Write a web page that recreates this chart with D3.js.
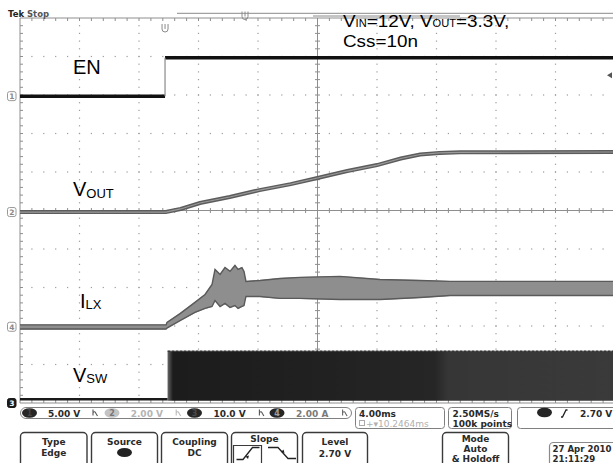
<!DOCTYPE html>
<html><head><meta charset="utf-8">
<script src="https://cdn.jsdelivr.net/npm/d3@7"></script>
<style>
html,body{margin:0;padding:0;background:#fff;}
svg{display:block;}
</style></head><body>
<svg id="c" width="613" height="463"></svg>
<script>
// ================= DATA =================
const timePerDiv = 4;                 // ms / div
const chScale  = [5, 2, 10, 2];       // ch1 EN (V/div), ch2 VOUT (V/div), ch3 VSW (V/div), ch4 ILX (A/div)
const chOffset = [2.97, -0.04, -4.9, -3.02]; // ground position, divisions from centre
const chReadouts = ['5.00 V', '2.00 V', '10.0 V', '2.00 A'];

// EN (ch1)
const enEdges  = [0, 9.75, 40];       // ms
const enLevels = [0, 5.0];            // V

// VOUT (ch2)
const voutT = [0, 9.8, 10.8, 12.1, 14.1, 16.1, 18.2, 20.0, 22.0, 24.0, 25.6, 26.9, 28.2, 29.6, 40];
const voutV = [0, 0, 0.16, 0.47, 0.78, 1.14, 1.45, 1.77, 2.13, 2.44, 2.78, 2.99, 3.07, 3.10, 3.12];

// ILX (ch4) envelope
const ilxT  = [0, 9.82, 9.88, 10.76, 11.76, 12.44, 12.91, 13.11, 13.45, 13.78, 14.12, 14.45, 14.66, 14.92, 15.06, 15.19, 16.13, 17.48, 18.82, 21.51, 24.20, 26.89, 28.91, 40];
const ilxHi = [0.07, 0.07, 0.20, 0.66, 1.24, 1.65, 2.17, 2.95, 2.69, 3.05, 2.85, 3.16, 2.95, 3.05, 2.85, 2.33, 2.38, 2.48, 2.54, 2.59, 2.43, 2.38, 2.33, 2.33];
const ilxLo = [-0.09, -0.09, -0.04, 0.35, 0.77, 0.98, 1.08, 1.39, 1.08, 1.24, 1.03, 1.13, 0.98, 1.08, 1.13, 1.60, 1.60, 1.50, 1.50, 1.44, 1.44, 1.55, 1.65, 1.65];

// VSW (ch3) switching envelope
const vswBaseT = [0, 9.92];
const vswT  = [9.92, 40];
const vswHi = [12.45, 12.45];
const vswLo = [-0.4, -0.4];

// Readout texts
const timebase = '4.00ms';
const delayText = '10.2464ms';
const sampleRate = '2.50MS/s';
const recordLen = '100k points';
const trigLevel = '2.70 V';
const dateText = ['27 Apr 2010', '21:11:29'];

// ================= DRAW =================
const svg = d3.select('#c');
const W = 613;
const L = 20, T = 18, divW = 59.5, divH = 38.5;
const B = T + 10 * divH;
const x = d3.scaleLinear().domain([0, 10 * timePerDiv]).range([L, L + 10 * divW]);
const yDiv = d3.scaleLinear().domain([-5, 5]).range([B, T]);
const chY = (ch, v) => yDiv(chOffset[ch] + v / chScale[ch]);

svg.append('rect').attr('width', 613).attr('height', 463).attr('fill', '#fff');

// ---- graticule ----
const gg = svg.append('g');
const dots = [];
for (let i = 1; i < 10; i++) {
  if (i === 5) continue;
  for (let k = 1; k < 50; k++) dots.push([L + i * divW, T + k * divH / 5]);
}
for (let j = 1; j < 10; j++) {
  if (j === 5) continue;
  for (let k = 1; k < 50; k++) { const xx = L + k * divW / 5; if (xx < W) dots.push([xx, T + j * divH]); }
}
gg.selectAll('rect.dot').data(dots).join('rect').attr('class', 'dot')
  .attr('x', d => d[0] - 0.6).attr('y', d => d[1] - 0.6).attr('width', 1.2).attr('height', 1.2).attr('fill', '#9c9c9c');

const lineCol = '#8e8e8e';
const ln = (x1, y1, x2, y2, c, w) => gg.append('line').attr('x1', x1).attr('y1', y1).attr('x2', x2).attr('y2', y2).attr('stroke', c || lineCol).attr('stroke-width', w || 1);
ln(L, T, L, B); ln(L, T, W, T); ln(L, B, W, B);
const cx = L + 5 * divW, cy = T + 5 * divH;
ln(cx, T, cx, B); ln(L, cy, W, cy);
for (let k = 1; k < 50; k++) {
  const yy = T + k * divH / 5;
  ln(L, yy, L + 3, yy);
  ln(cx - 2.5, yy, cx + 2.5, yy);
  const xx = L + k * divW / 5;
  if (xx < W) { ln(xx, T, xx, T + 3); ln(xx, B, xx, B - 3); ln(xx, cy - 2.5, xx, cy + 2.5); }
}

// ---- ILX ----
const ilx = ilxT.map((t, i) => ({ t, hi: ilxHi[i], lo: ilxLo[i] }));
svg.append('path').datum(ilx)
  .attr('d', d3.area().x(d => x(d.t)).y0(d => chY(3, d.lo) + 1).y1(d => chY(3, d.hi) - 1))
  .attr('fill', '#8e8e8e');
['hi', 'lo'].forEach(k => {
  svg.append('path').datum(ilx)
    .attr('d', d3.line().x(d => x(d.t)).y(d => chY(3, d[k]) + (k === 'hi' ? -0.5 : 0.5)))
    .attr('fill', 'none').attr('stroke', '#5a5a5a').attr('stroke-width', 1.4);
});

// ---- VOUT ----
const vout = voutT.map((t, i) => ({ t, v: voutV[i] }));
const vline = d3.line().x(d => x(d.t)).y(d => chY(1, d.v));
svg.append('path').datum(vout).attr('d', vline).attr('fill', 'none').attr('stroke', '#5c5c5c').attr('stroke-width', 4);
svg.append('path').datum(vout).attr('d', vline).attr('fill', 'none').attr('stroke', '#9a9a9a').attr('stroke-width', 1.2);

// ---- EN ----
enLevels.forEach((lv, i) => {
  svg.append('line').attr('x1', x(enEdges[i])).attr('x2', Math.min(x(enEdges[i + 1]), W))
    .attr('y1', chY(0, lv)).attr('y2', chY(0, lv)).attr('stroke', '#111').attr('stroke-width', 3.5);
});
for (let i = 1; i < enEdges.length - 1; i++) {
  svg.append('line').attr('x1', x(enEdges[i])).attr('x2', x(enEdges[i]))
    .attr('y1', chY(0, enLevels[i - 1])).attr('y2', chY(0, enLevels[i])).attr('stroke', '#8a8a8a').attr('stroke-width', 1.2);
}

// ---- VSW ----
const defs = svg.append('defs');
const grad = defs.append('linearGradient').attr('id', 'vswg').attr('gradientUnits', 'userSpaceOnUse')
  .attr('x1', x(vswT[0])).attr('x2', W).attr('y1', 0).attr('y2', 0);
[[0, '#666'], [0.012, '#1c1c1c'], [0.3, '#202020'], [0.6, '#262626'], [0.63, '#363636'], [1, '#3a3a3a']]
  .forEach(s => grad.append('stop').attr('offset', s[0]).attr('stop-color', s[1]));
const vsw = vswT.map((t, i) => ({ t, hi: vswHi[i], lo: vswLo[i] }));
svg.append('path').datum(vsw)
  .attr('d', d3.area().x(d => x(d.t)).y0(d => Math.min(chY(2, d.lo), B)).y1(d => chY(2, d.hi)))
  .attr('fill', 'url(#vswg)');
svg.append('path').datum(vsw)
  .attr('d', d3.line().x(d => x(d.t)).y(d => chY(2, d.hi)))
  .attr('fill', 'none').attr('stroke', '#222').attr('stroke-width', 1.2).attr('stroke-dasharray', '3,1');
svg.append('path').datum(vswBaseT)
  .attr('d', d3.line().x(d => x(d)).y(() => chY(2, 0)))
  .attr('fill', 'none').attr('stroke', '#1a1a1a').attr('stroke-width', 2.5);

// ---- channel ground markers ----
const markers = [[0, '1', false], [1, '2', false], [3, '4', false], [2, '3', true]];
markers.forEach(([ch, lab, dark]) => {
  const yy = ch === 2 ? B : chY(ch, 0);
  svg.append('rect').attr('x', 7.5).attr('y', yy - 4.5).attr('width', 8.5).attr('height', 9).attr('rx', 2)
    .attr('fill', dark ? '#1a1a1a' : '#fff').attr('stroke', dark ? '#1a1a1a' : '#999');
  svg.append('text').attr('x', 11.8).attr('y', yy + 3).attr('text-anchor', 'middle')
    .attr('font-family', 'DejaVu Sans').attr('font-size', 7.5).attr('font-weight', 'bold')
    .attr('fill', dark ? '#fff' : '#888').text(lab);
});
// trigger level arrow (right edge)
const tly = chY(0, parseFloat(trigLevel));
svg.append('path').attr('d', `M607,${tly} l5,-3 v6 z`).attr('fill', '#555');

// ---- top bar ----
svg.append('text').attr('x', 8).attr('y', 17).attr('font-family', 'DejaVu Sans').attr('font-weight', 'bold')
  .attr('font-size', 8.5).attr('fill', '#222').text('Tek');
svg.append('text').attr('x', 27).attr('y', 17).attr('font-family', 'DejaVu Sans').attr('font-weight', 'bold')
  .attr('font-size', 8.5).attr('fill', '#555').text('Stop');
svg.append('line').attr('x1', 177).attr('x2', W).attr('y1', 13.3).attr('y2', 13.3).attr('stroke', '#8a8a8a');
svg.append('line').attr('x1', 313).attr('x2', 460).attr('y1', 16).attr('y2', 16).attr('stroke', '#8a8a8a');
const uMark = (ux, uy) => {
  svg.append('path').attr('d', `M${ux - 3},${uy} v5 q0,3 3,3 q3,0 3,-3 v-5 M${ux},${uy} v5`)
    .attr('fill', 'none').attr('stroke', '#8a8a8a').attr('stroke-width', 1);
};
uMark(x(enEdges[1]), 24);
uMark(245, 11.5);

// ---- annotations ----
const ann = svg.append('g').attr('font-family', 'Liberation Sans, Arial, sans-serif').attr('fill', '#000');
const t1 = ann.append('text').attr('transform', 'translate(343,26.5) scale(1.11,1)').attr('font-size', 17);
t1.append('tspan').text('V');
t1.append('tspan').attr('font-size', 10).attr('dy', 0.8).text('IN');
t1.append('tspan').attr('dy', -0.8).text('=12V, V');
t1.append('tspan').attr('font-size', 10).attr('dy', 0.8).text('OUT');
t1.append('tspan').attr('dy', -0.8).text('=3.3V,');
ann.append('text').attr('transform', 'translate(343,46.5) scale(1.11,1)').attr('font-size', 17).text('Css=10n');

const label = (lx, ly, main, sub, dy) => {
  const t = ann.append('text').attr('x', lx).attr('y', ly).attr('font-size', 20);
  t.append('tspan').text(main);
  if (sub) t.append('tspan').attr('font-size', 13).attr('dy', dy).text(sub);
};
label(73, 74, 'EN');
label(73, 196, 'V', 'OUT', 1.5);
label(80, 307.5, 'I', 'LX', 1);
label(73, 381.5, 'V', 'SW', 1.5);

// ---- readout bar ----
const rb = svg.append('g').attr('font-family', 'DejaVu Sans').attr('font-weight', 'bold').attr('font-size', 9);
rb.append('rect').attr('x', 20.5).attr('y', 407.5).attr('width', 331).attr('height', 11).attr('rx', 5.5)
  .attr('fill', '#fff').attr('stroke', '#808080');
const badgeFill = ['#262626', '#c4c4c4', '#262626', '#262626'];
const badgeNum = ['#444', '#777', '#4a4a4a', '#a0a0a0'];
const readCol = ['#2a2a2a', '#b4b4b4', '#2a2a2a', '#7a7a7a'];
const bwCol = ['#555', '#bbb', '#555', '#666'];
chReadouts.forEach((r, i) => {
  const bx = 29.5 + i * 82.5;
  rb.append('ellipse').attr('cx', bx).attr('cy', 413).attr('rx', 7.5).attr('ry', 4.8).attr('fill', badgeFill[i]);
  rb.append('text').attr('x', bx).attr('y', 416.2).attr('text-anchor', 'middle').attr('font-size', 8).attr('fill', badgeNum[i]).text(String([1, 2, 3, 4][i]));
  rb.append('text').attr('x', 48 + i * 82.7).attr('y', 416.8).attr('fill', readCol[i]).text(r);
  const wx = 93 + i * 83.2;
  rb.append('path').attr('d', `M${wx},409.5 v6 M${wx},412.5 q2,-2 3,1 l1.5,2.5`).attr('fill', 'none')
    .attr('stroke', bwCol[i]).attr('stroke-width', 1.1);
});
// timebase box
rb.append('rect').attr('x', 355.5).attr('y', 407.5).attr('width', 89).attr('height', 21).attr('rx', 3).attr('fill', '#fff').attr('stroke', '#808080');
rb.append('text').attr('x', 359).attr('y', 417).attr('fill', '#2a2a2a').text(timebase);
rb.append('rect').attr('x', 359.5).attr('y', 420.5).attr('width', 5).attr('height', 5).attr('fill', 'none').attr('stroke', '#aaa');
rb.append('text').attr('x', 366).attr('y', 426.5).attr('fill', '#b0b0b0').attr('font-weight', 'normal').text('+\u25BE' + delayText);
// sample box
rb.append('rect').attr('x', 448.5).attr('y', 407.5).attr('width', 63).attr('height', 21).attr('rx', 3).attr('fill', '#fff').attr('stroke', '#808080');
rb.append('text').attr('x', 452.5).attr('y', 416.5).attr('fill', '#2a2a2a').text(sampleRate);
rb.append('text').attr('x', 452.5).attr('y', 426.5).attr('fill', '#2a2a2a').text(recordLen);
// trigger box
rb.append('rect').attr('x', 517.5).attr('y', 407.5).attr('width', 110).attr('height', 21).attr('rx', 3).attr('fill', '#fff').attr('stroke', '#808080');
rb.append('ellipse').attr('cx', 544.5).attr('cy', 412.5).attr('rx', 7.5).attr('ry', 4.8).attr('fill', '#262626');
rb.append('path').attr('d', 'M561,417 h1.5 l3.5,-7 h1.5').attr('fill', 'none').attr('stroke', '#222').attr('stroke-width', 1.3);
rb.append('text').attr('x', 580).attr('y', 416.8).attr('fill', '#2a2a2a').text(trigLevel);

// ---- soft buttons ----
const bt = svg.append('g').attr('font-family', 'DejaVu Sans').attr('font-weight', 'bold').attr('font-size', 9).attr('fill', '#2a2a2a');
const button = (bx, bw, top, lines, ys) => {
  bt.append('rect').attr('x', bx + 0.5).attr('y', top).attr('width', bw).attr('height', 60).attr('rx', 4)
    .attr('fill', '#fff').attr('stroke', '#3a3a3a').attr('stroke-width', 1.4);
  lines.forEach((s, i) => bt.append('text').attr('x', bx + bw / 2 + 0.5).attr('y', ys[i]).attr('text-anchor', 'middle').text(s));
};
button(20, 66.5, 432.5, ['Type', 'Edge'], [444.5, 456]);
button(91, 66, 432.5, ['Source'], [444.5]);
bt.append('ellipse').attr('cx', 124.5).attr('cy', 452.5).attr('rx', 7.5).attr('ry', 4.5).attr('fill', '#222');
button(161, 66, 432.5, ['Coupling', 'DC'], [444.5, 456]);
button(231, 66, 432.5, ['Slope'], [442]);
bt.append('path').attr('d', 'M233.5,465 V445.5 H261.5 V465').attr('fill', 'none').attr('stroke', '#3a3a3a').attr('stroke-width', 1.2);
bt.append('path').attr('d', 'M236.5,459.5 H243 L252.5,447.5 H259.5').attr('fill', 'none').attr('stroke', '#222').attr('stroke-width', 1.3);
bt.append('path').attr('d', 'M245.5,456.5 l3.5,-1 l-1,3.5 z').attr('fill', '#222');
bt.append('path').attr('d', 'M268,447.5 H278 L288,458.5 H296').attr('fill', 'none').attr('stroke', '#222').attr('stroke-width', 1.3);
bt.append('path').attr('d', 'M281,452 l3.5,1 l-1,-3.5 z').attr('fill', '#222');
button(302, 65, 432.5, ['Level', trigLevel], [445, 456.5]);
button(442, 66, 432.5, ['Mode', 'Auto', '& Holdoff'], [441.5, 451.8, 462]);
bt.append('rect').attr('x', 549.5).attr('y', 442.5).attr('width', 80).attr('height', 40).attr('rx', 4)
  .attr('fill', '#fff').attr('stroke', '#8a8a8a').attr('stroke-width', 1.2);
bt.append('text').attr('x', 552.5).attr('y', 452).attr('font-size', 8.6).text(dateText[0]);
bt.append('text').attr('x', 552.5).attr('y', 462).attr('font-size', 8.6).text(dateText[1]);
</script>
</body></html>
